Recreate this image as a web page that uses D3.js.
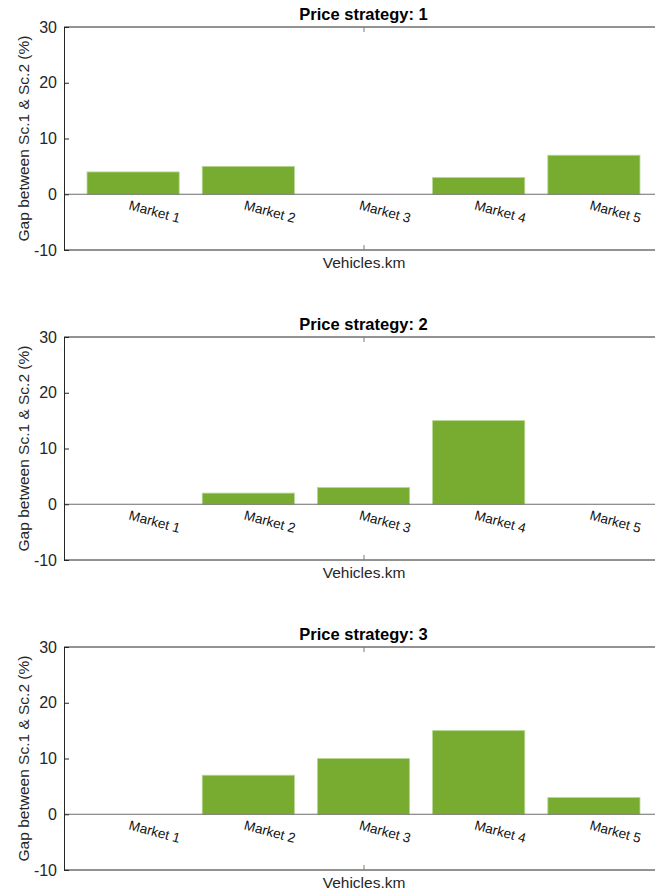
<!DOCTYPE html>
<html><head><meta charset="utf-8">
<script src="https://cdn.jsdelivr.net/npm/d3@7"></script>
<style>body{margin:0;background:#fff}svg{display:block}</style>
</head><body>
<script>
const markets = ["Market 1","Market 2","Market 3","Market 4","Market 5"];
const strategies = ["1","2","3"];
const strategy1 = [4,5,0,3,7];
const strategy2 = [0,2,3,15,0];
const strategy3 = [0,7,10,15,3];
const yTicks = [-10,0,10,20,30];
const xTickLabel = "Vehicles.km";
const yLabel = "Gap between Sc.1 & Sc.2 (%)";
const series = [strategy1, strategy2, strategy3];

const W = 655, H = 894;
const font = "'Liberation Sans', Arial, Helvetica, sans-serif";
const svg = d3.select("body").append("svg").attr("width", W).attr("height", H)
  .style("font-family", font);

const left = 64, right = 663;
const x = d3.scaleLinear().domain([0.4, 5.6]).range([left, right]);
const bw = x(1.8) - x(1);

series.forEach((vals, i) => {
  const top = 27 + i * 310, bottom = top + 223;
  const y = d3.scaleLinear().domain([-10, 30]).range([bottom, top]);
  const g = svg.append("g");

  // bars
  g.selectAll("rect.bar").data(vals).join("rect")
    .attr("x", (d, j) => x(j + 1) - bw / 2)
    .attr("width", bw)
    .attr("y", d => y(Math.max(d, 0)))
    .attr("height", d => Math.abs(y(d) - y(0)))
    .attr("fill", "#77AC30")
    .attr("stroke", "#b7d693").attr("stroke-width", 0.8);

  // zero baseline
  g.append("line").attr("x1", left).attr("x2", W).attr("y1", y(0)).attr("y2", y(0))
    .attr("stroke", "#6e6e6e").attr("stroke-width", 1);

  // box lines
  g.append("line").attr("x1", left).attr("x2", W).attr("y1", top).attr("y2", top)
    .attr("stroke", "#262626");
  g.append("line").attr("x1", left).attr("x2", W).attr("y1", bottom).attr("y2", bottom)
    .attr("stroke", "#262626");

  // y axis
  const ya = g.append("g").attr("transform", `translate(${left},0)`)
    .call(d3.axisLeft(y).tickValues(yTicks).tickFormat(d => String(d)).tickSizeInner(-5).tickSizeOuter(0).tickPadding(7));
  ya.select(".domain").attr("stroke", "#262626");
  ya.selectAll(".tick line").attr("stroke", "#262626");
  ya.selectAll(".tick text").attr("fill", "#262626").style("font-size", "16px").style("font-family", font);

  // x axis (single tick)
  const xa = g.append("g").attr("transform", `translate(0,${bottom})`)
    .call(d3.axisBottom(x).tickValues([3]).tickFormat(() => xTickLabel).tickSizeInner(-5).tickSizeOuter(0).tickPadding(7));
  xa.select(".domain").remove();
  xa.selectAll(".tick line").attr("stroke", "#7a7a7a");
  xa.selectAll(".tick text").attr("fill", "#262626").style("font-size", "15.5px").style("font-family", font);
  const xt = g.append("g").attr("transform", `translate(0,${top})`)
    .call(d3.axisTop(x).tickValues([3]).tickFormat("").tickSizeInner(-5).tickSizeOuter(0));
  xt.select(".domain").remove();
  xt.selectAll(".tick line").attr("stroke", "#7a7a7a");

  // market labels
  g.selectAll("text.mk").data(markets).join("text")
    .attr("class", "mk")
    .attr("transform", (d, j) => `translate(${x(j + 1) - 5},${y(0) + 15}) rotate(15)`)
    .attr("font-size", "13.5px").attr("fill", "#111")
    .text(d => d);

  // title
  g.append("text").attr("x", x(3)).attr("y", top - 7).attr("text-anchor", "middle")
    .attr("font-weight", "bold").attr("font-size", "16.5px").attr("fill", "#000")
    .text("Price strategy: " + strategies[i]);

  // y label
  g.append("text").attr("transform", `translate(29,${(top + bottom) / 2}) rotate(-90)`)
    .attr("text-anchor", "middle").attr("font-size", "15.5px").attr("fill", "#262626")
    .text(yLabel);
});
</script>
</body></html>
